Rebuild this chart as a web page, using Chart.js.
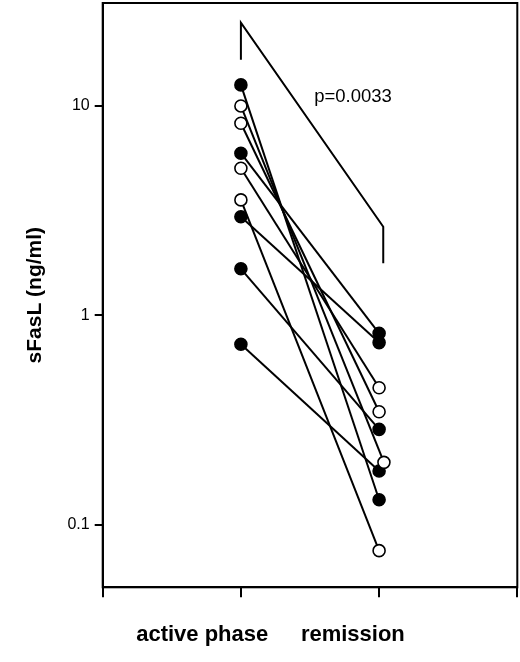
<!DOCTYPE html>
<html><head><meta charset="utf-8">
<script src="https://cdn.jsdelivr.net/npm/chart.js@4.4.0/dist/chart.umd.min.js"></script>
<style>html,body{margin:0;padding:0;background:#fff}</style>
</head><body>
<canvas id="c" width="520" height="662"></canvas>
<script>
const categories = ['active phase', 'remission'];
const activeValues = [12.6, 10.0, 8.27, 5.95, 5.04, 3.56, 2.96, 1.67, 0.729];
const remissionValues = [0.132, 0.199, 0.347, 0.822, 0.452, 0.0754, 0.742, 0.286, 0.181];
const remissionX = [2, 2.035, 2, 2, 2, 2, 2, 2, 2];
const filled = [true, false, false, true, false, false, true, true, true];
const yTickValues = [0.1, 1, 10];
const yTickLabels = ['0.1', '1', '10'];
const bracketX = [1, 1, 2.03, 2.03];
const bracketY = [16.6, 25.0, 2.65, 1.775];
const pLabel = 'p=0.0033';

const datasets = [];
datasets.push({
  data: bracketX.map((x, i) => ({x: x, y: bracketY[i]})),
  showLine: true, borderColor: '#000', borderWidth: 2, pointRadius: 0, fill: false
});
activeValues.forEach((v, i) => {
  datasets.push({
    data: [{x: 1, y: v}, {x: remissionX[i], y: remissionValues[i]}],
    showLine: true,
    borderColor: '#000',
    borderWidth: 2,
    pointRadius: 6,
    pointBorderWidth: 1.6,
    pointBorderColor: '#000',
    pointBackgroundColor: filled[i] ? '#000' : '#fff',
    fill: false
  });
});

const extras = {
  id: 'extras',
  afterDraw(chart) {
    const ctx = chart.ctx, a = chart.chartArea;
    const xs = chart.scales.x, ys = chart.scales.y;
    ctx.save();
    ctx.strokeStyle = '#000';
    ctx.lineWidth = 2;
    ctx.strokeRect(a.left, a.top, a.right - a.left, a.bottom - a.top);
    ctx.fillStyle = '#000';
    ctx.font = '18.5px Arial, "Liberation Sans", sans-serif';
    ctx.textAlign = 'left';
    ctx.textBaseline = 'middle';
    ctx.fillText(pLabel, xs.getPixelForValue(1.53), ys.getPixelForValue(11.0));
    ctx.font = 'bold 22px Arial, "Liberation Sans", sans-serif';
    ctx.textAlign = 'center';
    ctx.fillText(categories[0], xs.getPixelForValue(0.72), a.bottom + 48);
    ctx.fillText(categories[1], xs.getPixelForValue(1.81), a.bottom + 48);
    ctx.restore();
  }
};

new Chart(document.getElementById('c'), {
  type: 'scatter',
  data: {datasets: datasets},
  options: {
    responsive: false,
    animation: false,
    layout: {autoPadding: false, padding: {left: 0, right: 2.7, top: 3, bottom: 0}},
    plugins: {legend: {display: false}, tooltip: {enabled: false}},
    scales: {
      x: {
        type: 'linear', min: 0, max: 3,
        ticks: {stepSize: 1, callback: () => '', padding: 0},
        grid: {drawOnChartArea: false, drawTicks: true, tickLength: 10, color: '#000', lineWidth: 2},
        border: {display: true, color: '#000', width: 2},
        afterFit(s) { s.height = 74.7; s.paddingLeft = 0; s.paddingRight = 0; }
      },
      y: {
        type: 'logarithmic', min: 0.0504, max: 31,
        afterBuildTicks(s) { s.ticks = yTickValues.map(v => ({value: v})); },
        ticks: {
          color: '#000', padding: 5,
          font: {size: 16, family: 'Arial, "Liberation Sans", sans-serif'},
          callback: (v) => { const i = yTickValues.indexOf(v); return i >= 0 ? yTickLabels[i] : ''; }
        },
        grid: {drawOnChartArea: false, drawTicks: true, tickLength: 8, color: '#000', lineWidth: 2},
        border: {display: true, color: '#000', width: 2},
        title: {
          display: true, text: 'sFasL (ng/ml)', color: '#000',
          font: {size: 21, weight: 'bold', family: 'Arial, "Liberation Sans", sans-serif'},
          padding: {top: 23, bottom: 0}
        },
        afterFit(s) { s.width = 102.7; s.paddingTop = 0; s.paddingBottom = 0; }
      }
    }
  },
  plugins: [extras]
});
</script>
</body></html>
